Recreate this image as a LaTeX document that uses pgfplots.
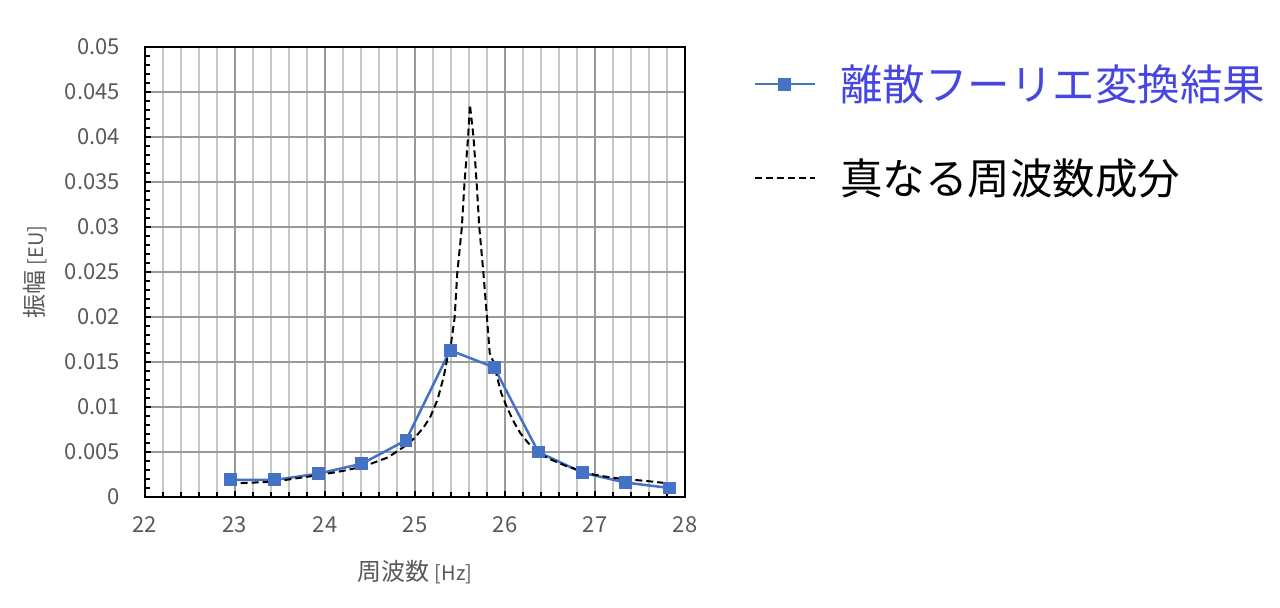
\documentclass[border=0pt]{standalone}
\usepackage{pgfplots}
\pgfplotsset{compat=1.18}
\usepackage{fontspec}
\setmainfont{Noto Sans CJK JP}
\definecolor{dftblue}{RGB}{68,114,196}
\definecolor{legblue}{RGB}{70,70,225}
\definecolor{txtgray}{RGB}{89,89,89}
\begin{document}
\begin{tikzpicture}
\useasboundingbox (0,0) rectangle (640pt,304pt);
\begin{axis}[
  at={(72.5pt,55.5pt)}, anchor=south west,
  scale only axis, width=270pt, height=225pt,
  xmin=22, xmax=28, ymin=0, ymax=0.05,
  xtick={22,23,24,25,26,27,28},
  ytick={0,0.005,0.01,0.015,0.02,0.025,0.03,0.035,0.04,0.045,0.05},
  minor x tick num=4, minor y tick num=4,
  xmajorgrids=true, xminorgrids=true, ymajorgrids=true, yminorgrids=false,
  major grid style={color=black!40, line width=0.7pt},
  minor grid style={color=black!22, line width=0.7pt},
  axis line style={black, line width=1pt},
  tick align=inside, xtick pos=bottom, ytick pos=left,
  major tick length=3pt, minor tick length=2.5pt,
  every tick/.style={black, line width=0.9pt},
  ticklabel style={font=\fontsize{11}{13}\selectfont, text=txtgray},
  /pgf/number format/assume math mode=true,
  scaled y ticks=false,
  yticklabel style={/pgf/number format/fixed, /pgf/number format/precision=3, xshift=-9pt},
  xticklabel style={yshift=-6pt},
  xlabel={周波数 {\fontsize{10}{12}\selectfont[Hz]}}, ylabel={振幅 {\fontsize{10}{12}\selectfont[EU]}},
  label style={font=\fontsize{12}{14}\selectfont, text=txtgray},
  xlabel style={at={(axis description cs:0.5,-0.167)}, anchor=center},
  ylabel style={at={(axis description cs:-0.204,0.5)}, anchor=center},
  legend style={draw=none, fill=none, font=\fontsize{21.25}{25}\selectfont,
    at={(axis description cs:1.115,0.979)}, anchor=north west,
    row sep=23.5pt, legend cell align=left,
    /tikz/every odd column/.append style={column sep=10pt}},
  legend image code/.code={\draw[mark repeat=2,mark phase=2,#1] plot coordinates {(0pt,0pt)(15pt,0pt)(30pt,0pt)};},
]
\addplot[dftblue, line width=1.25pt, mark=square*, mark size=2.6pt, mark options={solid, fill=dftblue}] coordinates {
(22.95,0.0019) (23.44,0.0019) (23.93,0.0026) (24.41,0.0037) (24.90,0.0063)
(25.39,0.0163) (25.88,0.0144) (26.37,0.0050) (26.86,0.0027) (27.34,0.0016) (27.83,0.0010)
};
\addlegendentry{\textcolor{legblue}{離散フーリエ変換結果}}
\addplot[black, line width=1pt, dash pattern=on 3.5pt off 2pt] coordinates {
(22.94,0.0015) (23.20,0.0016) (23.43,0.0017) (23.70,0.0021) (23.91,0.0024)
(24.20,0.0029) (24.43,0.0034) (24.70,0.0044) (24.91,0.0058) (25.00,0.0066)
(25.10,0.0078) (25.17,0.0089) (25.25,0.0108) (25.32,0.0134) (25.37,0.0160)
(25.40,0.0170) (25.44,0.0199) (25.47,0.0249) (25.52,0.0299) (25.55,0.0349)
(25.59,0.0400) (25.61,0.0436) (25.65,0.0400) (25.685,0.0349) (25.715,0.0299)
(25.76,0.0249) (25.80,0.0199) (25.83,0.0160) (25.88,0.0148) (25.91,0.0134)
(25.96,0.0115) (26.02,0.0100) (26.10,0.0083) (26.17,0.0071) (26.25,0.0061)
(26.35,0.0050) (26.50,0.0042) (26.69,0.0034) (26.85,0.0029) (26.98,0.0025)
(27.15,0.0022) (27.31,0.0020) (27.55,0.0018) (27.83,0.0015)
};
\addlegendentry{真なる周波数成分}
\end{axis}
\end{tikzpicture}
\end{document}
